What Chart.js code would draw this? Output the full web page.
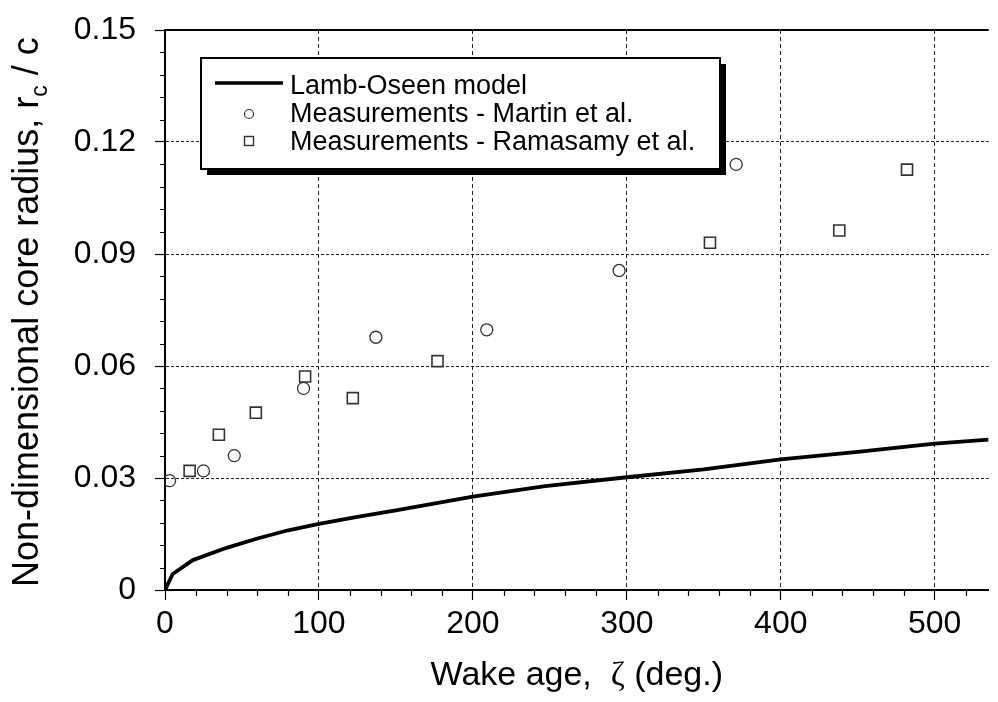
<!DOCTYPE html>
<html><head><meta charset="utf-8">
<script src="https://cdn.jsdelivr.net/npm/chart.js@4.4.1/dist/chart.umd.min.js"></script>
<style>html,body{margin:0;padding:0;background:#fff;overflow:hidden}canvas{display:block}</style>
</head><body>
<canvas id="c" width="998" height="702" style="width:998px;height:702px"></canvas>
<script>
// ---- data ----
const curveAge = [0, 5, 18, 40, 60, 80, 100, 124, 150, 200, 247, 300, 350, 400, 450, 500, 535];
const curveRadius = [0, 0.0043, 0.008, 0.0113, 0.0138, 0.016, 0.0177, 0.0195, 0.0213, 0.025, 0.0278, 0.0302, 0.0323, 0.035, 0.037, 0.0392, 0.0403];
const martinAge = [3, 25, 45, 90, 137, 209, 295, 371];
const martinRadius = [0.0293, 0.0319, 0.036, 0.054, 0.0677, 0.0697, 0.0856, 0.114];
const ramasamyAge = [16, 35, 59, 91, 122, 177, 354, 438, 482];
const ramasamyRadius = [0.0319, 0.0416, 0.0475, 0.0572, 0.0514, 0.0613, 0.093, 0.0963, 0.1126];
const xTicks = [0, 100, 200, 300, 400, 500];
const xTickLabels = ["0", "100", "200", "300", "400", "500"];
const yTicks = [0, 0.03, 0.06, 0.09, 0.12, 0.15];
const yTickLabels = ["0", "0.03", "0.06", "0.09", "0.12", "0.15"];
const seriesNames = ["Lamb-Oseen model", "Measurements - Martin et al.", "Measurements - Ramasamy et al."];

const SANS = "'Liberation Sans', Arial, sans-serif";
const canvas = document.getElementById('c');
const ctx0 = canvas.getContext('2d');

function drawSegments(ctx, segs, x, y) {
  let cx = x;
  for (const s of segs) {
    ctx.font = s.font;
    ctx.fillText(s.text, cx, y + (s.dy || 0));
    cx += ctx.measureText(s.text).width;
  }
}
function segWidth(ctx, segs) {
  let w = 0;
  for (const s of segs) { ctx.font = s.font; w += ctx.measureText(s.text).width; }
  return w;
}

const decorPlugin = {
  id: 'decor',
  afterDraw(chart) {
    const { ctx, chartArea: a, scales: { x, y } } = chart;
    ctx.save();
    // top frame line
    ctx.strokeStyle = '#000'; ctx.lineWidth = 2; ctx.setLineDash([]);
    ctx.beginPath(); ctx.moveTo(a.left - 1, a.top); ctx.lineTo(a.right, a.top); ctx.stroke();
    // minor ticks
    ctx.lineWidth = 1.2;
    ctx.beginPath();
    for (let k = 1; k < 25; k++) {
      if (k % 5 === 0) continue;
      const py = Math.round(y.getPixelForValue(k * 0.006)) + 0.5;
      ctx.moveTo(a.left - 5, py); ctx.lineTo(a.left, py);
    }
    for (let k = 1; k * 20 <= 535; k++) {
      if (k % 5 === 0) continue;
      const px = Math.round(x.getPixelForValue(k * 20)) + 0.5;
      ctx.moveTo(px, a.bottom); ctx.lineTo(px, a.bottom + 6);
    }
    ctx.stroke();

    // legend box
    const L = a.left + 36, T = a.top + 28, W = 519, H = 111;
    ctx.fillStyle = '#000'; ctx.fillRect(L + 6, T + 6, W, H);
    ctx.fillStyle = '#fff'; ctx.fillRect(L, T, W, H);
    ctx.lineWidth = 2; ctx.strokeStyle = '#000'; ctx.strokeRect(L, T, W, H);
    // legend symbols
    ctx.lineWidth = 3.5; ctx.lineCap = 'butt';
    ctx.beginPath(); ctx.moveTo(L + 14, T + 25); ctx.lineTo(L + 82, T + 25); ctx.stroke();
    ctx.lineWidth = 1.2; ctx.strokeStyle = '#333';
    ctx.beginPath(); ctx.arc(L + 48, T + 56, 4.5, 0, Math.PI * 2); ctx.stroke();
    ctx.lineWidth = 1.4;
    ctx.strokeRect(L + 43.5, T + 78.5, 9, 9);
    // legend texts
    ctx.fillStyle = '#000'; ctx.textAlign = 'left'; ctx.textBaseline = 'alphabetic';
    ctx.font = "27px " + SANS;
    ctx.fillText(seriesNames[0], L + 89, T + 36);
    ctx.fillText(seriesNames[1], L + 89, T + 64);
    ctx.fillText(seriesNames[2], L + 89, T + 92);

    // x axis title
    const xs = [
      { text: 'Wake age,  ', font: "34px " + SANS },
      { text: 'ζ', font: "34px 'Liberation Serif', serif" },
      { text: ' (deg.)', font: "34px " + SANS }
    ];
    const xw = segWidth(ctx, xs);
    drawSegments(ctx, xs, (a.left + a.right) / 2 - xw / 2, a.bottom + 95);

    // y axis title (with subscript)
    ctx.translate(38, a.bottom - 3);
    ctx.rotate(-Math.PI / 2);
    drawSegments(ctx, [
      { text: 'Non-dimensional core radius, r', font: "36px " + SANS },
      { text: 'c', font: "23px " + SANS, dy: 9 },
      { text: ' / c', font: "36px " + SANS }
    ], 0, 0);
    ctx.restore();
  }
};

const pts = (xs, ys) => xs.map((v, i) => ({ x: v, y: ys[i] }));

new Chart(ctx0, {
  type: 'scatter',
  data: {
    datasets: [
      { label: seriesNames[0], data: pts(curveAge, curveRadius), showLine: true, borderColor: '#000',
        borderWidth: 3.8, pointRadius: 0, pointHoverRadius: 0, tension: 0, fill: false, borderJoinStyle: 'round' },
      { label: seriesNames[1], data: pts(martinAge, martinRadius), pointStyle: 'circle', pointRadius: 6,
        pointHoverRadius: 6, borderColor: '#333', borderWidth: 1.3, backgroundColor: 'rgba(0,0,0,0)' },
      { label: seriesNames[2], data: pts(ramasamyAge, ramasamyRadius), pointStyle: 'rect', pointRadius: 7.8,
        pointHoverRadius: 7.8, borderColor: '#333', borderWidth: 1.6, backgroundColor: 'rgba(0,0,0,0)' }
    ]
  },
  options: {
    responsive: false, animation: false, events: [], devicePixelRatio: 1,
    layout: { padding: { top: 30, left: 0, right: 0, bottom: 0 } },
    plugins: { legend: { display: false }, tooltip: { enabled: false } },
    scales: {
      x: {
        type: 'linear', min: 0, max: 535,
        afterBuildTicks: s => { s.ticks = xTicks.map(v => ({ value: v })); },
        afterFit: s => { s.height = 112; s.paddingLeft = 0; s.paddingRight = 0; },
        ticks: { callback: (v, i) => xTickLabels[i], color: '#000', padding: 5, maxRotation: 0, autoSkip: false,
          font: { family: SANS, size: 32 } },
        grid: { color: '#222', lineWidth: 1, drawTicks: true, tickLength: 10, tickColor: '#000', tickWidth: 1.2, tickBorderDash: [] },
        border: { display: true, color: '#000', width: 2, dash: [4, 3] },
        title: { display: false }
      },
      y: {
        type: 'linear', min: 0, max: 0.15,
        afterBuildTicks: s => { s.ticks = yTicks.map(v => ({ value: v })); },
        afterFit: s => { s.width = 165; s.paddingTop = 0; s.paddingBottom = 0; },
        ticks: { callback: (v, i) => yTickLabels[i], color: '#000', padding: 19, autoSkip: false,
          font: { family: SANS, size: 32 } },
        grid: { color: '#222', lineWidth: 1, drawTicks: true, tickLength: 10, tickColor: '#000', tickWidth: 1.2, tickBorderDash: [] },
        border: { display: true, color: '#000', width: 2, dash: [3, 2] },
        title: { display: false }
      }
    }
  },
  plugins: [decorPlugin]
});
</script>
</body></html>
